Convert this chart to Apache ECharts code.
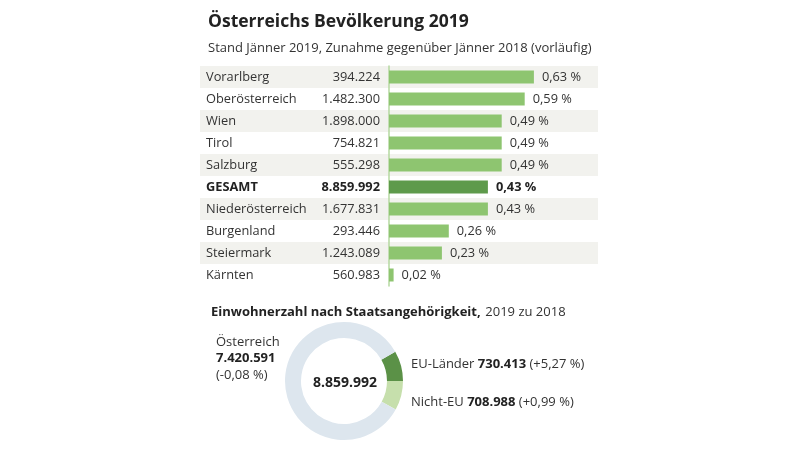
<!DOCTYPE html>
<html><head><meta charset="utf-8">
<script src="https://cdn.jsdelivr.net/npm/echarts@6/dist/echarts.min.js"></script>
<style>html,body{margin:0;padding:0;background:#fff}#c{width:800px;height:452px}</style>
</head><body><div id="c"></div>
<script>
var regions = ['Vorarlberg','Oberösterreich','Wien','Tirol','Salzburg','GESAMT','Niederösterreich','Burgenland','Steiermark','Kärnten'];
var population = ['394.224','1.482.300','1.898.000','754.821','555.298','8.859.992','1.677.831','293.446','1.243.089','560.983'];
var growth = [0.63,0.59,0.49,0.49,0.49,0.43,0.43,0.26,0.23,0.02];
var groups = ['EU-Länder','Nicht-EU','Österreich'];
var groupCounts = [730413, 708988, 7420591];
var groupCountLabels = ['730.413','708.988','7.420.591'];
var groupChange = ['+5,27 %','+0,99 %','-0,08 %'];
var totalLabel = '8.859.992';

var FONT = '"Open Sans", "Noto Sans", sans-serif';
var chart = echarts.init(document.getElementById('c'));
function fmt(v){ return v.toFixed(2).replace('.', ',') + ' %'; }

chart.setOption({
  animation: false,
  textStyle: {fontFamily: FONT},
  title: [
    {text: 'Österreichs Bevölkerung 2019', left: 203, top: 8,
     textStyle: {fontSize: 17.5, fontWeight: 'bold', color: '#222', fontFamily: FONT}},
    {text: 'Stand Jänner 2019, Zunahme gegenüber Jänner 2018 (vorläufig)', left: 203, top: 37,
     textStyle: {fontSize: 13, fontWeight: 'normal', color: '#333', fontFamily: FONT}},
    {text: '{b|Einwohnerzahl nach Staatsangehörigkeit,} {n|2019 zu 2018}', left: 206, top: 298,
     textStyle: {fontWeight: 'normal', rich: {b: {fontSize: 13, fontWeight: 'bold', color: '#222', fontFamily: FONT},
                        n: {fontSize: 13, fontWeight: 'normal', color: '#333', fontFamily: FONT}}}}
  ],
  grid: [
    {left: 200, top: 66, width: 398, height: 220},
    {left: 389, top: 66, width: 230, height: 220}
  ],
  xAxis: [
    {gridIndex: 0, type: 'value', min: 0, max: 1, show: false},
    {gridIndex: 1, type: 'value', min: 0, max: 1, show: false}
  ],
  yAxis: [
    {gridIndex: 0, type: 'category', data: regions, inverse: true,
     axisLine: {show: false}, axisTick: {show: false},
     splitArea: {show: true, areaStyle: {color: ['#f2f2ee', '#ffffff']}},
     axisLabel: {inside: true, margin: 6, color: '#333', fontSize: 12.8, fontFamily: FONT,
       formatter: function(v){ return v === 'GESAMT' ? '{b|' + v + '}' : v; },
       rich: {b: {fontWeight: 'bold', color: '#222', fontSize: 12.8, fontFamily: FONT}}}},
    {gridIndex: 1, type: 'category', data: regions, inverse: true,
     axisLine: {show: true, lineStyle: {color: '#b5d9a0', width: 1.5}}, axisTick: {show: false},
     axisLabel: {margin: 9, color: '#333', fontSize: 12.8, fontFamily: FONT,
       formatter: function(v, i){ return v === 'GESAMT' ? '{b|' + population[i] + '}' : population[i]; },
       rich: {b: {fontWeight: 'bold', color: '#222', fontSize: 12.8, fontFamily: FONT}}}}
  ],
  series: [
    {type: 'bar', xAxisIndex: 1, yAxisIndex: 1, barWidth: 13,
     data: growth.map(function(v, i){
       var bold = regions[i] === 'GESAMT';
       return {value: v,
         itemStyle: {color: bold ? '#5e9a4b' : '#8ec570'},
         label: {fontWeight: bold ? 'bold' : 'normal', color: bold ? '#222' : '#333'}};
     }),
     label: {show: true, position: 'right', distance: 8, fontSize: 12.8, fontFamily: FONT,
       formatter: function(p){ return fmt(p.value); }}},
    {type: 'pie', center: [344, 381], radius: [43, 59], startAngle: 29.7, clockwise: true,
     label: {show: false}, labelLine: {show: false}, silent: true,
     itemStyle: {borderWidth: 0},
     data: groups.map(function(g, i){
       return {name: g, value: groupCounts[i],
         itemStyle: {color: ['#5b9147', '#c6dfac', '#dde6ee'][i]}};
     })}
  ],
  graphic: [
    {type: 'text', x: 345, y: 383, style: {text: totalLabel, x: 0, y: 0, align: 'center', verticalAlign: 'middle',
      font: 'bold 14px ' + FONT, fill: '#222'}},
    {type: 'text', x: 216, y: 334, style: {
      text: '{n|' + groups[2] + '}\n{b|' + groupCountLabels[2] + '}\n{n|(' + groupChange[2] + ')}',
      rich: {n: {fontSize: 13, fontFamily: FONT, fill: '#333', lineHeight: 16.5},
             b: {fontSize: 13, fontFamily: FONT, fontWeight: 'bold', fill: '#222', lineHeight: 16.5}}}},
    {type: 'text', x: 411, y: 364, style: {
      text: '{n|' + groups[0] + ' }{b|' + groupCountLabels[0] + '}{n| (' + groupChange[0] + ')}',
      verticalAlign: 'middle',
      rich: {n: {fontSize: 13, fontFamily: FONT, fill: '#333'},
             b: {fontSize: 13, fontFamily: FONT, fontWeight: 'bold', fill: '#222'}}}},
    {type: 'text', x: 411, y: 402, style: {
      text: '{n|' + groups[1] + ' }{b|' + groupCountLabels[1] + '}{n| (' + groupChange[1] + ')}',
      verticalAlign: 'middle',
      rich: {n: {fontSize: 13, fontFamily: FONT, fill: '#333'},
             b: {fontSize: 13, fontFamily: FONT, fontWeight: 'bold', fill: '#222'}}}}
  ]
});
</script></body></html>
